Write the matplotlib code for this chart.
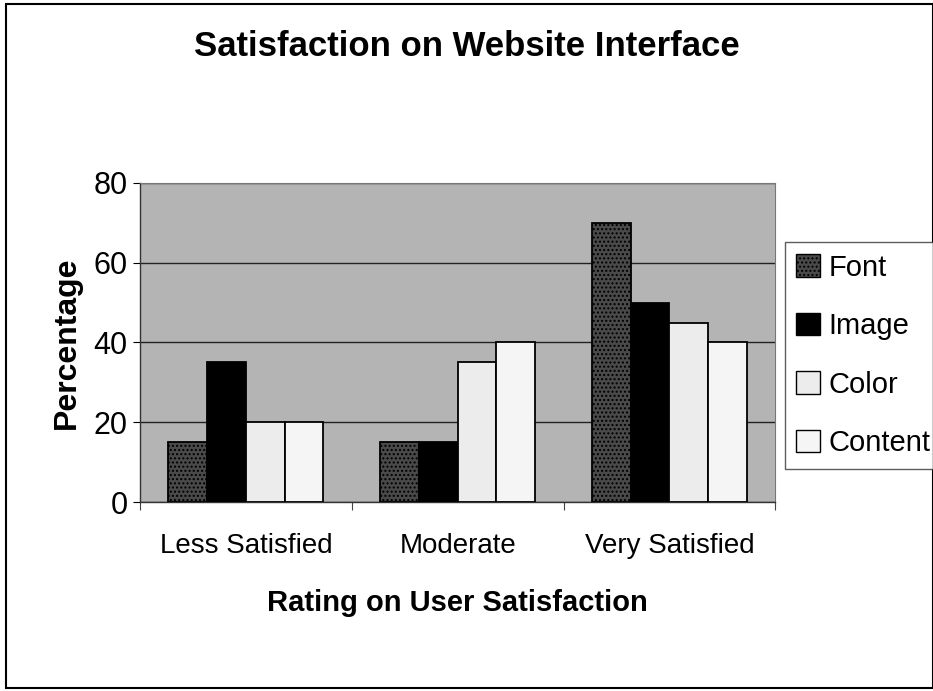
import matplotlib
matplotlib.use("Agg")
import matplotlib.pyplot as plt
import numpy as np
from matplotlib.patches import Rectangle, Patch

categories = ["Less Satisfied", "Moderate", "Very Satisfied"]
series_names = ["Font", "Image", "Color", "Content"]
font_vals = [15, 15, 70]
image_vals = [35, 15, 50]
color_vals = [20, 35, 45]
content_vals = [20, 40, 40]
y_ticks = [0, 20, 40, 60, 80]

series_vals = [font_vals, image_vals, color_vals, content_vals]
face_colors = ["#4a4a4a", "#000000", "#ececec", "#f5f5f5"]
hatches = ["....", None, None, None]

FAM = ["Liberation Sans Narrow", "Liberation Sans", "DejaVu Sans"]
plt.rcParams["font.family"] = FAM
plt.rcParams["hatch.color"] = "#888888"

fig = plt.figure(figsize=(9.33, 6.91), dpi=100)
fig.patch.set_facecolor("white")
fig.add_artist(Rectangle((0.006, 0.004), 0.994, 0.99, transform=fig.transFigure,
                         fill=False, edgecolor="black", linewidth=1.5))

ax = fig.add_axes([0.150, 0.2735, 0.681, 0.4617])
ax.set_facecolor("#b4b4b4")

x = np.arange(len(categories))
w = 0.183
offsets = (np.arange(4) - 1.5) * w
for i, (name, vals) in enumerate(zip(series_names, series_vals)):
    ax.bar(x + offsets[i], vals, width=w, color=face_colors[i], edgecolor="black",
           linewidth=1.3, hatch=hatches[i], label=name, zorder=3)

ax.set_xlim(-0.5, 2.5)
ax.set_ylim(0, 80)
ax.set_yticks(y_ticks)
ax.set_yticklabels([str(v) for v in y_ticks], fontsize=22)
ax.yaxis.grid(True, color="#222222", linewidth=1.0, zorder=1)
ax.set_axisbelow(True)

ax.set_xticks([-0.5, 0.5, 1.5, 2.5])
ax.set_xticklabels([])
ax.set_xticks(x, minor=True)
ax.set_xticklabels(categories, minor=True, fontsize=20)
ax.tick_params(axis="x", which="minor", length=0, pad=22)
ax.tick_params(axis="x", which="major", length=6, direction="out", color="#444444")
ax.tick_params(axis="y", length=5, direction="out", pad=4)

for s in ["top", "right"]:
    ax.spines[s].set_color("#777777")
    ax.spines[s].set_linewidth(0.8)
for s in ["left", "bottom"]:
    ax.spines[s].set_color("#333333")
    ax.spines[s].set_linewidth(1.0)

ax.set_xlabel("Rating on User Satisfaction", fontsize=21, fontweight="bold", labelpad=22)
ax.set_ylabel("Percentage", fontsize=23, fontweight="bold", labelpad=8)

fig.text(0.5, 0.932, "Satisfaction on Website Interface", ha="center", va="center",
         fontsize=25, fontweight="bold")

handles = [Patch(facecolor=face_colors[i], edgecolor="black", hatch=hatches[i])
           for i in range(4)]
leg = fig.legend(handles, series_names, loc="upper left",
                 bbox_to_anchor=(0.841, 0.650), fontsize=21, frameon=True,
                 fancybox=False, edgecolor="#333333", handlelength=0.8,
                 handleheight=0.8, handletextpad=0.3, labelspacing=1.05,
                 borderpad=0.4, borderaxespad=0)
leg.get_frame().set_linewidth(1.0)

fig.savefig("out.png", dpi=100)
